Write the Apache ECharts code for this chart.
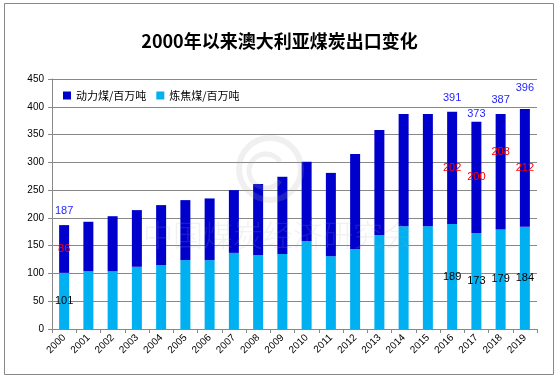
<!DOCTYPE html>
<html>
<head>
<meta charset="utf-8">
<script src="https://cdn.jsdelivr.net/npm/echarts@6/dist/echarts.min.js"></script>
<style>
  html, body { margin: 0; padding: 0; background: #fff; }
  #chart { width: 559px; height: 377px; }
</style>
</head>
<body>
<div id="chart"></div>
<script>
const years = ["2000", "2001", "2002", "2003", "2004", "2005", "2006", "2007", "2008", "2009",
  "2010", "2011", "2012", "2013", "2014", "2015", "2016", "2017", "2018", "2019"];
// 炼焦煤 (bottom, light blue)
const cokingCoal = [101, 104, 104, 112, 115, 124, 124, 137, 133, 135,
  158, 131, 144, 169, 185, 185, 189, 173, 179, 184];
// 动力煤 (top, dark blue)
const thermalCoal = [86, 89, 99, 102, 108, 108, 111, 113, 128, 139,
  143, 150, 171, 189, 202, 202, 202, 200, 208, 212];
const labeledYears = ["2000", "2016", "2017", "2018", "2019"];
const yTicks = [0, 50, 100, 150, 200, 250, 300, 350, 400, 450];

const totals = years.map((y, i) => cokingCoal[i] + thermalCoal[i]);
const showLabel = (i) => labeledYears.includes(years[i]);

// the source nudged a few labels by hand
const totalNudge = { "2017": 6, "2019": -7 };

const font = "Liberation Sans, Arial, sans-serif";
const cjkFont = "'Noto Sans CJK SC', sans-serif";

const chart = echarts.init(document.getElementById("chart"));
chart.setOption({
  animation: false,
  backgroundColor: "#fff",
  title: {
    text: "2000年以来澳大利亚煤炭出口变化",
    left: "center",
    top: 27,
    textStyle: { fontFamily: cjkFont, fontSize: 18, fontWeight: "bold", color: "#000" },
  },
  legend: {
    data: ["动力煤/百万吨", "炼焦煤/百万吨"],
    left: 58,
    top: 85,
    itemWidth: 8,
    itemHeight: 8,
    itemGap: 10,
    icon: "rect",
    textStyle: { fontFamily: cjkFont, fontSize: 11, color: "#000" },
  },
  grid: { left: 52, right: 22, top: 79, bottom: 48 },
  xAxis: {
    type: "category",
    data: years,
    axisLine: { lineStyle: { color: "#888" } },
    axisTick: { show: true, length: 4, lineStyle: { color: "#888" } },
    axisLabel: { rotate: 45, margin: 7, fontFamily: font, fontSize: 10, color: "#000", interval: 0 },
  },
  yAxis: {
    type: "value",
    min: yTicks[0],
    max: yTicks[yTicks.length - 1],
    interval: yTicks[1] - yTicks[0],
    axisLine: { show: true, lineStyle: { color: "#888" } },
    axisTick: { show: true, length: 4, lineStyle: { color: "#888" } },
    axisLabel: { margin: 8, fontFamily: font, fontSize: 10, color: "#000" },
    splitLine: { lineStyle: { color: "#888", width: 1 } },
  },
  series: [
    {
      name: "炼焦煤/百万吨",
      type: "bar",
      stack: "coal",
      barWidth: 10,
      itemStyle: { color: "#00B0F0" },
      data: cokingCoal.map((v, i) => ({
        value: v,
        label: { show: showLabel(i), position: "inside", color: "#000", fontFamily: font, fontSize: 11 },
      })),
    },
    {
      name: "动力煤/百万吨",
      type: "bar",
      stack: "coal",
      barWidth: 10,
      itemStyle: { color: "#0000CC" },
      data: thermalCoal.map((v, i) => ({
        value: v,
        label: {
          show: showLabel(i),
          position: "inside",
          color: "#FF0000",
          fontFamily: font,
          fontSize: 11,
          offset: years[i] === "2018" ? [0, -20] : [0, 0],
        },
      })),
    },
    {
      name: "total",
      type: "line",
      symbol: "circle",
      symbolSize: 1,
      showSymbol: true,
      itemStyle: { color: "rgba(0,0,0,0)" },
      lineStyle: { width: 0, color: "rgba(0,0,0,0)" },
      silent: true,
      z: 10,
      data: totals.map((v, i) => ({
        value: v,
        label: {
          show: showLabel(i),
          position: "top",
          distance: 8,
          offset: [0, totalNudge[years[i]] || 0],
          color: "#1F1FFF",
          fontFamily: font,
          fontSize: 11,
        },
      })),
    },
  ],
  graphic: [
    {
      type: "rect",
      shape: { x: 4.5, y: 3.5, width: 549, height: 371 },
      style: { fill: null, stroke: "#888", lineWidth: 1 },
      z: 100,
    },
    {
      type: "circle",
      shape: { cx: 270, cy: 169, r: 31 },
      style: { fill: null, stroke: "rgba(170,170,170,0.18)", lineWidth: 6 },
      z: 100,
    },
    {
      type: "arc",
      shape: { cx: 266, cy: 171, r: 17, startAngle: 0.6, endAngle: 5.7 },
      style: { fill: null, stroke: "rgba(170,170,170,0.18)", lineWidth: 5 },
      z: 100,
    },
    {
      type: "text",
      x: 143,
      y: 220,
      style: {
        text: "中国煤炭经济研究会",
        fontFamily: cjkFont,
        fontSize: 30,
        fontWeight: 200,
        fill: "rgba(170,170,170,0.16)",
      },
      z: 100,
    },
  ],
});
</script>
</body>
</html>
